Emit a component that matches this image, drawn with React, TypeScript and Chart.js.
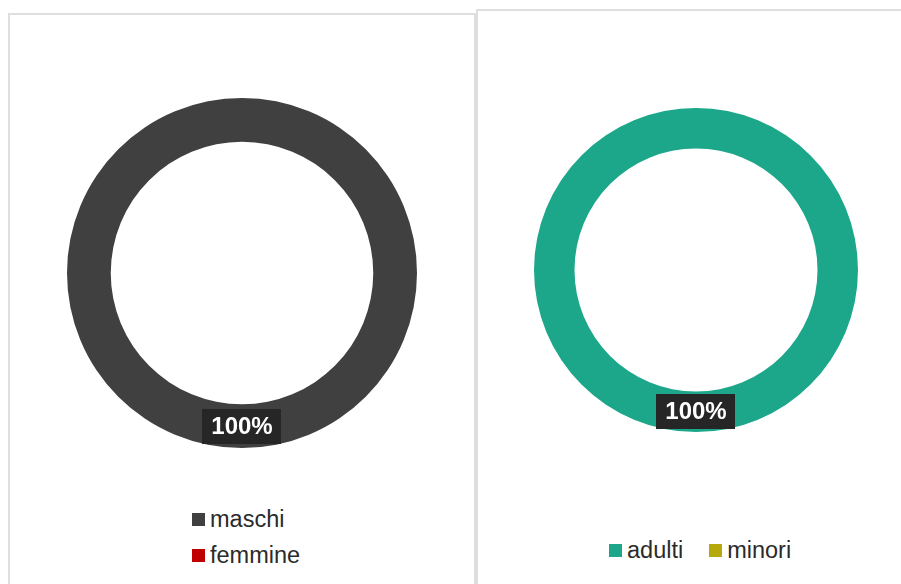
import React, { useEffect, useRef } from "react";
import { Chart, registerables } from "chart.js";

Chart.register(...registerables);

// ---- data ----
const genderCategories = ["maschi", "femmine"];
const genderValues = [100, 0];
const ageCategories = ["adulti", "minori"];
const ageValues = [100, 0];

// ---- styles ----
const genderColors = ["#404040", "#c00000"];
const ageColors = ["#1ca78a", "#b5a90c"];
const FONT = '"Liberation Sans", Arial, sans-serif';

const pctLabelPlugin = {
  id: "pctLabel",
  afterDatasetsDraw(chart: any) {
    const ctx = chart.ctx;
    const meta = chart.getDatasetMeta(0);
    const values: number[] = chart.data.datasets[0].data;
    const total = values.reduce((a, b) => a + b, 0);
    meta.data.forEach((arc: any, i: number) => {
      const v = values[i];
      if (!v) return;
      const pct = Math.round((v / total) * 100) + "%";
      const pos = arc.tooltipPosition(false);
      ctx.save();
      ctx.font = `bold 24px ${FONT}`;
      const tw = ctx.measureText(pct).width;
      const w = tw + 18;
      const h = 35;
      ctx.fillStyle = "#262626";
      ctx.fillRect(Math.round(pos.x - w / 2), Math.round(pos.y - h / 2), Math.round(w), h);
      ctx.fillStyle = "#ffffff";
      ctx.textAlign = "center";
      ctx.textBaseline = "middle";
      ctx.fillText(pct, pos.x, pos.y + 1);
      ctx.restore();
    });
  },
};

function Donut({ labels, values, colors, size }: { labels: string[]; values: number[]; colors: string[]; size: number }) {
  const ref = useRef<HTMLCanvasElement>(null);
  useEffect(() => {
    const chart = new Chart(ref.current as HTMLCanvasElement, {
      type: "doughnut",
      data: {
        labels,
        datasets: [{ data: values, backgroundColor: colors, borderWidth: 0, hoverOffset: 0 }],
      },
      options: {
        responsive: false,
        animation: false,
        cutout: "75%",
        layout: { padding: 10 },
        plugins: { legend: { display: false }, tooltip: { enabled: false } },
        events: [],
      },
      plugins: [pctLabelPlugin],
    } as any);
    return () => chart.destroy();
  }, []);
  return <canvas ref={ref} width={size} height={size} style={{ display: "block" }} />;
}

function LegendItem({ label, color, gap }: { label: string; color: string; gap?: number }) {
  return (
    <span style={{ whiteSpace: "nowrap", marginRight: gap || 0 }}>
      <span
        style={{
          display: "inline-block",
          width: 13,
          height: 13,
          background: color,
          marginRight: 5,
          marginBottom: 1,
          verticalAlign: "baseline",
        }}
      />
      {label}
    </span>
  );
}

export default function App() {
  const legendText: React.CSSProperties = {
    position: "absolute",
    fontFamily: FONT,
    fontSize: 23.5,
    lineHeight: "36px",
    color: "#2b2b2b",
  };
  return (
    <div
      style={{
        position: "fixed",
        left: 0,
        top: 0,
        width: "100vw",
        height: "100vh",
        overflow: "hidden",
        background: "#ffffff",
      }}
    >
      {/* left panel */}
      <div
        style={{
          position: "absolute",
          left: 8,
          top: 13,
          width: 468,
          height: 620,
          border: "2px solid #dedede",
          boxSizing: "border-box",
        }}
      />
      {/* right panel */}
      <div
        style={{
          position: "absolute",
          left: 476,
          top: 9,
          width: 460,
          height: 620,
          border: "2px solid #dedede",
          boxSizing: "border-box",
        }}
      />
      <div style={{ position: "absolute", left: 57, top: 88 }}>
        <Donut labels={genderCategories} values={genderValues} colors={genderColors} size={370} />
      </div>
      <div style={{ position: "absolute", left: 524, top: 98 }}>
        <Donut labels={ageCategories} values={ageValues} colors={ageColors} size={344} />
      </div>
      <div style={{ ...legendText, left: 192, top: 501 }}>
        {genderCategories.map((c, i) => (
          <div key={c}>
            <LegendItem label={c} color={genderColors[i]} />
          </div>
        ))}
      </div>
      <div style={{ ...legendText, left: 609, top: 532, whiteSpace: "nowrap" }}>
        {ageCategories.map((c, i) => (
          <LegendItem key={c} label={c} color={ageColors[i]} gap={i < ageCategories.length - 1 ? 26 : 0} />
        ))}
      </div>
    </div>
  );
}
